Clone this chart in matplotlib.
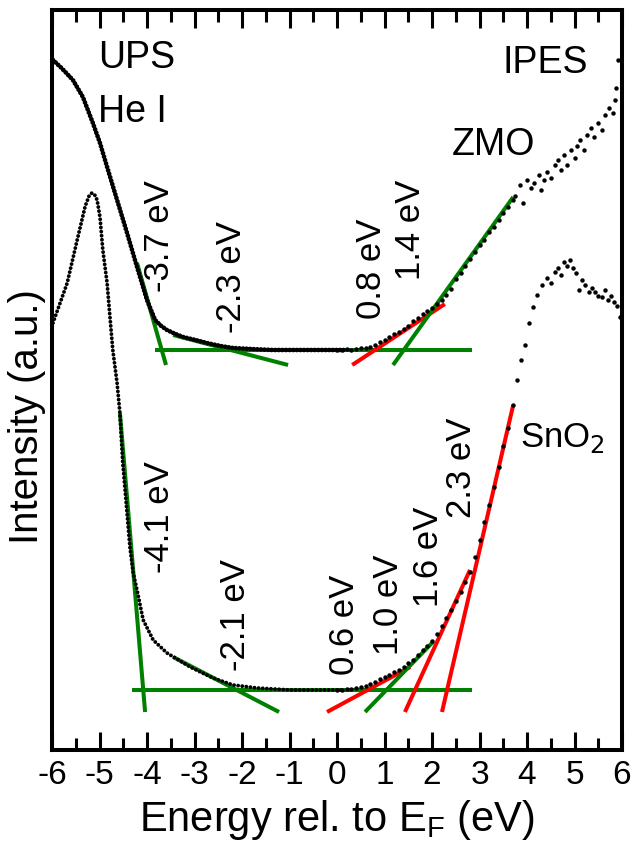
import numpy as np
import matplotlib
matplotlib.use("Agg")
import matplotlib.pyplot as plt
from matplotlib.ticker import MultipleLocator

plt.rcParams['font.family'] = ['Liberation Sans', 'DejaVu Sans']

# ---- data (energy in eV, intensity in arbitrary units) ----
Y0 = 750  # intensity = Y0 - read value

zmo_ups_E = [-5.98, -5.80, -5.56, -5.35, -5.14, -4.99, -4.84, -4.63, -4.42, -4.21,
             -4.00, -3.83, -3.70, -3.58, -3.40, -3.24, -2.98, -2.74, -2.45, -2.19,
             -1.80, -1.35, -0.80, -0.30, 0.20]
zmo_ups_v = [60, 68, 80, 97, 123, 143, 167, 200, 233, 267,
             300, 320, 326, 330, 334, 337, 340, 343, 346, 348,
             349, 350, 350, 350, 350]

sno2_ups_E = [-5.98, -5.83, -5.68, -5.47, -5.30, -5.22, -5.16, -5.10, -5.05, -4.99,
              -4.93, -4.84, -4.78, -4.72, -4.63, -4.57, -4.51, -4.42, -4.36, -4.29,
              -4.21, -4.08, -3.87, -3.58, -3.30, -3.09, -2.61, -2.19, -1.68, -0.99,
              -0.40, 0.10]
sno2_ups_v = [323, 303, 283, 240, 206, 196, 193, 195, 200, 217,
              250, 283, 317, 350, 383, 413, 463, 513, 547, 573,
              590, 620, 640, 653, 661, 667, 678, 685, 688, 690,
              690, 690]

zmo_ipes_E = [0.0, 0.1, 0.2, 0.3, 0.4, 0.5, 0.6, 0.7, 0.8, 0.9,
              1.0, 1.1, 1.2, 1.3, 1.4, 1.5, 1.6, 1.7, 1.8, 1.9,
              2.0, 2.1, 2.2, 2.3, 2.4, 2.5, 2.6, 2.7, 2.8, 2.9,
              3.0, 3.1, 3.2, 3.3, 3.4, 3.5, 3.6, 3.7, 3.75, 3.85,
              3.92, 4.0, 4.08, 4.15, 4.25, 4.3, 4.35, 4.42, 4.5, 4.58,
              4.65, 4.72, 4.78, 4.85, 4.92, 5.0, 5.05, 5.12, 5.2, 5.27,
              5.35, 5.42, 5.5, 5.58, 5.65, 5.72, 5.8, 5.85, 5.88, 5.92]
zmo_ipes_v = [350, 350, 349, 350, 349, 348, 348, 347, 345, 342,
              340, 337, 334, 332, 329, 326, 321, 318, 314, 311,
              308, 304, 300, 295, 289, 279, 273, 266, 259, 252,
              245, 240, 232, 227, 220, 213, 207, 200, 196, 185,
              203, 180, 188, 183, 175, 190, 180, 172, 178, 165,
              160, 170, 155, 165, 150, 158, 146, 140, 150, 135,
              128, 137, 123, 130, 115, 108, 113, 100, 88, 60]

sno2_ipes_E = [0.0, 0.1, 0.2, 0.3, 0.4, 0.5, 0.6, 0.7, 0.8, 0.9,
               1.0, 1.1, 1.2, 1.3, 1.4, 1.5, 1.6, 1.7, 1.8, 1.9,
               2.0, 2.1, 2.2, 2.3, 2.4, 2.5, 2.6, 2.7, 2.8, 2.9,
               3.0, 3.1, 3.2, 3.3, 3.4, 3.5, 3.6, 3.7, 3.78, 3.87,
               3.96, 4.05, 4.13, 4.22, 4.32, 4.42, 4.5, 4.58, 4.65, 4.72,
               4.78, 4.84, 4.9, 4.96, 5.03, 5.1, 5.16, 5.22, 5.3, 5.36,
               5.44, 5.5, 5.58, 5.64, 5.7, 5.76, 5.84, 5.9, 5.96]
sno2_ipes_v = [690, 690, 689, 689, 688, 687, 686, 684, 682, 679,
               677, 675, 672, 670, 667, 663, 660, 655, 650, 646,
               641, 634, 626, 618, 610, 601, 592, 582, 572, 557,
               540, 522, 505, 487, 467, 446, 428, 405, 380, 360,
               345, 323, 307, 295, 285, 278, 283, 272, 268, 275,
               262, 266, 260, 268, 273, 290, 280, 285, 292, 288,
               292, 296, 297, 290, 300, 296, 302, 306, 317]

# extrapolation lines: (E_start, E_end, v_start, v_end, colour)
fit_lines = [
    (-3.83, 2.84, 350, 350, 'green'),
    (-4.21, -3.60, 263, 365, 'green'),
    (-3.45, -1.03, 335, 365, 'green'),
    (0.32, 2.27, 365, 304, 'red'),
    (1.18, 3.71, 365, 197, 'green'),
    (-4.32, 2.84, 690, 690, 'green'),
    (-4.57, -4.04, 413, 712, 'green'),
    (-3.45, -1.22, 657, 712, 'green'),
    (-0.21, 1.54, 712, 667, 'red'),
    (0.59, 2.02, 712, 642, 'green'),
    (1.43, 2.80, 712, 570, 'red'),
    (2.21, 3.71, 712, 405, 'red'),
]

onset_labels = ['-3.7 eV', '-2.3 eV', '0.8 eV', '1.4 eV',
                '-4.1 eV', '-2.1 eV', '0.6 eV', '1.0 eV', '1.6 eV', '2.3 eV']
onset_E = [-3.73, -2.23, 0.72, 1.54, -3.73, -2.13, 0.15, 1.09, 1.92, 2.63]
onset_v = [236, 277, 269, 230, 517, 615, 625, 605, 557, 468]

xticks = list(range(-6, 7))

# ---- figure ----
fig = plt.figure(figsize=(6.34, 8.43), dpi=100)
ax = fig.add_axes([52/634, 1-750/843, 570/634, 740/843])

def I(v):
    return Y0 - np.asarray(v, dtype=float)

green = '#008000'
for e0, e1, v0, v1, c in fit_lines:
    ax.plot([e0, e1], I([v0, v1]), color=(green if c == 'green' else '#ff0000'),
            lw=2.9, solid_capstyle='butt', zorder=2)

ax.plot(zmo_ups_E, I(zmo_ups_v), color='k', lw=3.4, linestyle=(0, (0.01, 0.75)),
        dash_capstyle='round', zorder=3)
ax.plot(sno2_ups_E, I(sno2_ups_v), color='k', lw=2.8, linestyle=(0, (0.01, 1.05)),
        dash_capstyle='round', zorder=3)
ax.plot(zmo_ipes_E, I(zmo_ipes_v), 'o', color='k', ms=3.2, mew=0, zorder=3)
ax.plot(sno2_ipes_E, I(sno2_ipes_v), 'o', color='k', ms=3.2, mew=0, zorder=3)

for t, e, v in zip(onset_labels, onset_E, onset_v):
    ax.text(e, Y0 - v, t, rotation=90, ha='center', va='center', fontsize=25)

ax.text(-5.03, Y0 - 68, 'UPS', fontsize=27, ha='left', va='baseline')
ax.text(-5.03, Y0 - 122, 'He I', fontsize=27, ha='left', va='baseline')
ax.text(3.49, Y0 - 73, 'IPES', fontsize=27, ha='left', va='baseline')
ax.text(2.42, Y0 - 155, 'ZMO', fontsize=27, ha='left', va='baseline')
ax.text(3.85, Y0 - 447, 'SnO$_2$', fontsize=25, ha='left', va='baseline')

ax.set_xlim(-6, 6)
ax.set_ylim(0, 740)
ax.set_xticks(xticks)
ax.set_xticklabels([str(t) for t in xticks])
ax.xaxis.set_minor_locator(MultipleLocator(0.5))
ax.set_yticks([])
ax.tick_params(axis='x', which='both', direction='in', top=True, bottom=True,
               labelsize=24, width=2.2, pad=7)
ax.tick_params(axis='x', which='major', length=13)
ax.tick_params(axis='x', which='minor', length=8.5)
for s in ax.spines.values():
    s.set_linewidth(2.9)

ax.set_xlabel('Energy rel. to E$_\\mathregular{F}$ (eV)', fontsize=30, labelpad=5)
ax.set_ylabel('Intensity (a.u.)', fontsize=29)
ax.yaxis.set_label_coords(-0.01, (750 - 417) / 740)

fig.savefig('out.png', dpi=100)
